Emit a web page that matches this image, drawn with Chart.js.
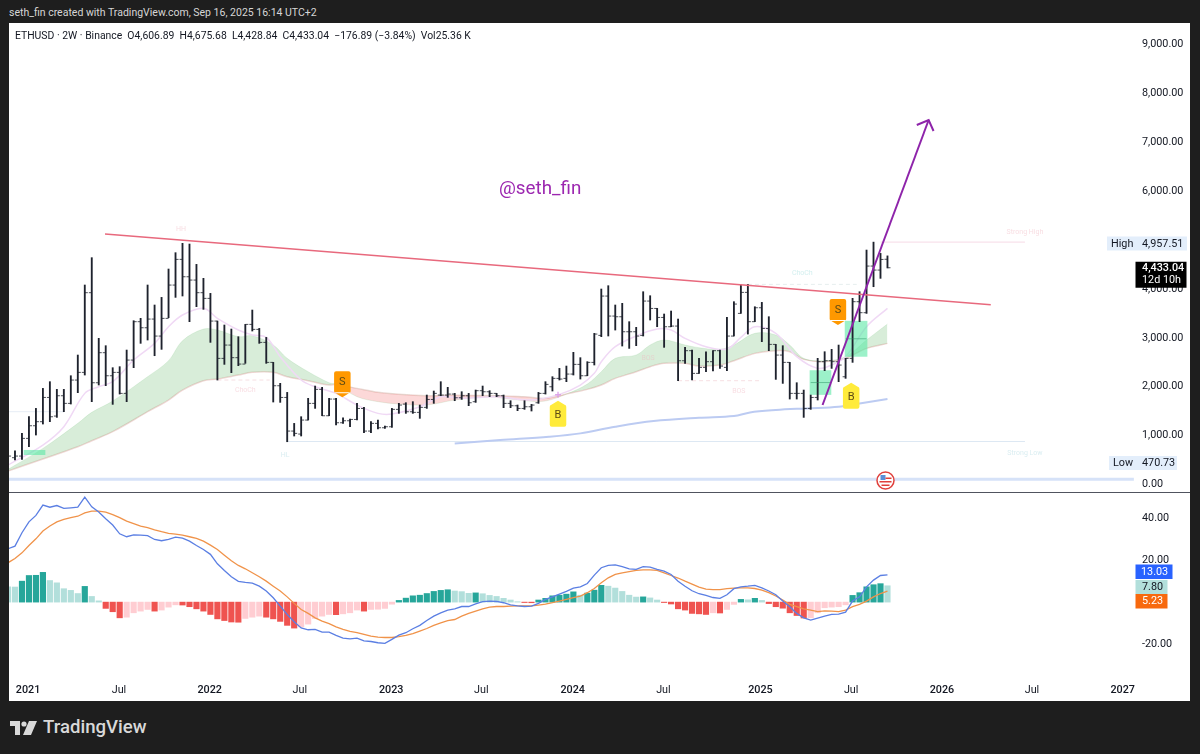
<!DOCTYPE html>
<html>
<head>
<meta charset="utf-8">
<title>ETHUSD 2W</title>
<script src="https://cdn.jsdelivr.net/npm/chart.js@4"></script>
<style>
  html, body { margin: 0; padding: 0; background: #1e1e1e; }
  body { width: 1200px; height: 754px; position: relative; overflow: hidden; font-family: Roboto, sans-serif; }
  #panel { position: absolute; left: 9px; top: 23px; width: 1181px; height: 678px; background: #fff; }
  #split { position: absolute; left: 9px; top: 492px; width: 1181px; height: 1px; background: #50535e; }
  canvas { position: absolute; left: 9px; }
  #priceChart { top: 23px; }
  #macdChart { top: 493px; }
  #byline { position: absolute; left: 9px; top: 6px; color: #d6d6d6; font-size: 10.5px; white-space: nowrap; }
  #legend { position: absolute; left: 15px; top: 29px; color: #131722; font-size: 10.4px; white-space: pre; }
  #handle { position: absolute; left: 499px; top: 177px; color: #9c27b0; font-size: 18.8px; }
  #brand { position: absolute; left: 43px; top: 716px; color: #d9d9d9; font-size: 18.6px; font-weight: 500; }
  #logo { position: absolute; left: 10px; top: 721px; }
</style>
</head>
<body>
<div id="panel"></div>
<canvas id="priceChart" width="1181" height="469"></canvas>
<div id="split"></div>
<canvas id="macdChart" width="1181" height="208"></canvas>
<div id="byline">seth_fin created with TradingView.com, Sep 16, 2025 16:14 UTC+2</div>
<div id="legend">ETHUSD · 2W · Binance  O4,606.89  H4,675.68  L4,428.84  C4,433.04  −176.89 (−3.84%)  Vol25.36 K</div>
<div id="handle">@seth_fin</div>
<svg id="logo" width="27" height="14" viewBox="0 0 27 14"><path d="M0 0h10v14H5V5H0z M19 0h8l-6 14h-8z" fill="#d9d9d9"/><circle cx="14" cy="3" r="2.6" fill="#d9d9d9"/></svg>
<div id="brand">TradingView</div>

<script>
// bar index runs left to right, one bar = 2 weeks
const opens = [534,549,583,944,1203,1285,1782,1400,1816,1660,2137,2294,3923,2082,2696,2225,2294,1864,2546,3330,3207,3384,3037,3398,4080,4605,4250,4182,3923,3807,3343,2580,2853,2594,2464,3275,3173,2907,2498,2021,1782,1094,1032,1319,1660,1946,1407,1748,1264,1305,1332,1557,1094,1251,1162,1182,1537,1646,1489,1476,1578,1741,1830,1830,1850,1775,1816,1694,1919,1898,1864,1816,1660,1612,1557,1591,1673,1864,2000,2171,2171,2260,2457,2225,2498,3050,3855,3446,3432,3125,3125,3050,3752,3602,3418,3227,3241,2532,2737,2273,2396,2512,2737,2396,3037,3500,3930,3330,3616,3193,2866,2648,2498,1864,1864,1557,1782,2512,2532,2512,2205,2580,3739,3514,4468,4386,4606.89];
const highs = [637,691,1046,1387,1557,1966,2103,1946,1946,2225,2648,4080,4639,2989,2839,2389,2410,2750,3350,3398,4080,3671,3827,4407,4741,4932,4918,4502,4216,3909,3343,3262,3180,3023,3275,3568,3193,3009,2498,2069,1884,1250,1387,1762,2014,1987,1762,1762,1366,1339,1660,1578,1285,1319,1196,1557,1660,1673,1694,1626,1830,1912,2103,1987,1864,1898,1864,1932,2014,1919,1864,1830,1714,1626,1714,1639,1884,2103,2205,2375,2423,2703,2594,2512,3091,3998,4066,3671,3705,3330,3214,3943,3861,3602,3487,3548,3384,2805,2750,2580,2716,2737,2750,3418,3739,4080,4093,3636,3725,3432,2866,2839,2498,2082,1932,1830,2580,2716,2764,2852,2580,3807,3943,4795,4957,4727,4675.68];
const lows = [501,501,514,773,1012,1237,1285,1373,1489,1646,1878,2239,1694,2035,2021,1639,1850,1694,2389,2887,2955,2634,2764,3412,3827,3855,3330,3637,3582,2907,2137,2457,2287,2430,2478,3139,2887,2478,1687,1680,875,992,992,1319,1557,1407,1407,1217,1251,1182,1319,1060,1060,1135,1148,1169,1455,1455,1455,1353,1557,1660,1816,1782,1714,1741,1612,1680,1816,1796,1796,1571,1571,1510,1537,1503,1660,1850,1912,2137,2103,2239,2157,2225,2444,3023,3037,3159,2832,2784,2839,3037,3364,3227,2805,3227,2123,2478,2137,2273,2307,2321,2375,2328,3037,3500,3077,3330,2921,2737,2150,2068,1748,1748,1373,1537,1728,2328,2375,2103,2171,2498,3330,3500,4045,4216,4428.84];
const closes = [583,583,944,1203,1285,1782,1387,1816,1660,2137,2294,3923,2082,2696,2225,2294,1864,2546,3330,3207,3384,3037,3398,4080,4605,4250,4182,3923,3807,3343,2580,2853,2594,2464,3275,3173,2907,2498,2021,1782,1094,1046,1319,1660,1946,1407,1748,1264,1305,1332,1557,1094,1251,1162,1182,1537,1626,1489,1476,1578,1741,1864,1830,1850,1775,1816,1673,1919,1898,1864,1816,1660,1612,1557,1591,1626,1864,2048,2171,2157,2260,2457,2225,2498,3078,3855,3446,3432,3125,3125,3037,3752,3602,3418,3227,3241,2532,2737,2273,2396,2512,2737,2423,3037,3691,3930,3330,3616,3193,2866,2648,2498,1864,1864,1557,1782,2512,2532,2512,2444,2580,3739,3514,4468,4386,4604,4433.04];

const ribbonX = [0,5,10,12,15,20,23,25,28,30,33,35,38,40,43,46,47,50,53,56,60,64,69,71,74,77,80,83,85,87,90,92,94,97,99,102,104,107,110,112,114,117,120,123,126];
const ribbonFast = [310,739,1251,1476,1707,2205,2532,2941,3180,3159,3023,3043,2853,2580,2307,2082,2048,1796,1694,1646,1626,1728,1796,1762,1714,1708,1850,2055,2307,2580,2648,2853,2955,2853,2798,2764,2853,3091,3057,2852,2580,2532,2614,2955,3282];
const ribbonSlow = [276,521,773,896,1080,1489,1728,1932,2123,2157,2239,2294,2294,2205,2123,2035,2048,1966,1885,1844,1816,1823,1816,1810,1796,1762,1850,1946,2035,2171,2307,2410,2478,2478,2423,2444,2532,2682,2737,2716,2559,2512,2580,2784,2886];

const emaX = [0,5,8,11,13,15,18,21,23,25,28,30,33,35,37,39,42,44,47,50,53,55,59,62,65,70,75,79,82,84,85,87,90,93,95,97,100,103,105,107,110,113,116,118,120,123,126];
const emaY = [398,807,1183,1864,2000,2103,2546,2887,3227,3466,3603,3398,3159,3057,3009,2614,2137,2000,1864,1626,1455,1441,1591,1796,1762,1796,1728,1844,2034,2273,2512,2818,3037,3180,3159,2989,2818,2771,3009,3228,3091,2614,2375,2444,2614,3227,3602];

const smaX = [64,70.5,77.5,82,87,92.5,99,104,106.3,110,114.4,119,122,126];
const smaY = [841,910,978,1046,1182,1298,1366,1400,1475,1523,1557,1591,1659,1748];

const trendX = [13.9,140.8];
const trendY = [5123,3677];
const arrowX = [116.7,131.9];
const arrowY = [1626,7454];
const arrowHeadX = [130.2,131.9,132.6];
const arrowHeadY = [7352,7454,7229];

const highLevel = 4957.51;
const lowLevel = 880;
const bandLevel = 106;

// S and B signals, the value is where the tag's tip sits
const sellBars = [47.9,118.9];
const sellValues = [1783,3262];
const buyBars = [78.8,120.8];
const buyValues = [1714,2082];

const noteTexts = ["HH","ChoCh","HL","BOS","BOS","ChoCh","Strong High","Strong Low"];
const noteBars = [24.8,34,39.7,91.7,104.7,113.8,145.7,145.7];
const noteValues = [5225,1933,603,2587,1912,4325,5164,644];

// 5,000 sits under the High tag in the original, so it is left out
const priceTicks = [0,1000,2000,3000,4000,6000,7000,8000,9000];
const macdTicks = [-20,20,40];
const timeTicks = [2.87,15.9,28.9,41.8,54.9,67.8,80.9,93.9,107.8,120.8,133.8,146.7,159.7];
const timeLabels = ["2021","Jul","2022","Jul","2023","Jul","2024","Jul","2025","Jul","2026","Jul","2027"];

const macdLine = [25.5,26.7,33.1,38.3,41.4,46.3,45.3,46.1,44.7,45,45.3,50.1,45.5,43,39.8,36.8,32.6,31.2,32.1,32,31.7,29.9,29.3,29.9,31,30.5,29.1,27,25.1,22.8,18.3,15.1,12.1,9.9,9.4,9.1,7.6,5.3,2.1,-1.9,-5.9,-9.4,-12.3,-13.2,-13,-14.3,-14.3,-15.9,-17.2,-17.5,-17.2,-18.5,-18.8,-19.4,-19.7,-17.8,-15.8,-14.6,-12.7,-11.1,-8.8,-6.7,-5.1,-3.8,-3.2,-2.1,-2.1,-0.8,0.2,0.5,0.3,-0.3,-1.3,-1.8,-2.1,-1.9,-0.6,1.3,2.5,3.8,5.1,6.7,7.3,8.9,12.9,16.4,17.5,17.8,16.9,15.9,15.6,16.9,16.7,15.6,14.8,13.2,10,7.6,5.4,4,3.2,2.2,1.8,3.5,6.4,7.3,7.6,8,6.8,5.3,3.5,0.5,-2.2,-5.4,-7.5,-8.6,-7.6,-6.7,-5.9,-5.7,-4.8,0.5,2.5,7.3,10.5,12.7,13.03];
const signalLine = [18.8,20.8,23.5,27,30.2,33.9,36.3,38.3,39.5,40.3,41,42.6,43.4,43.4,43,41.8,40.3,38.7,37.5,36.3,35.5,34.5,33.6,32.8,32.5,32,31.2,30.4,29.1,27.2,25.1,22.4,19.7,17.5,15.9,14,12.1,10,7.6,5.3,2.5,-0.6,-3.5,-5.4,-7.5,-9.1,-10.3,-11.8,-13,-14,-14.6,-15.4,-16.2,-16.7,-16.9,-16.9,-16.5,-15.9,-15,-13.8,-12.6,-11.1,-9.9,-8.8,-8.3,-6.7,-5.4,-4.3,-3.2,-2.4,-2.1,-2.1,-1.9,-1.8,-1.8,-1.8,-1.4,-1,-0.3,0.5,1.3,2.1,2.9,4.5,6.5,9.2,11.6,13.2,14,14.6,15.1,15.4,15.4,15.1,14,12.7,11.5,10,8.6,7.2,6.2,6,6,6.4,6.7,6.8,6.8,6.5,5.7,4.5,2.9,1,-1.1,-2.2,-3.2,-3.8,-4.5,-4.2,-4.3,-4.5,-3.8,-2.2,-1.1,0.5,2.5,4.1,5.23];
const histogram = [7.3,7.2,10,12.7,12.8,14.2,10.3,9.2,6.4,5.6,4.1,7.5,2.7,0.6,-3,-4.6,-7.5,-7.2,-5.1,-4.3,-3.5,-4.3,-3.8,-2.4,-1.3,-1.4,-2.2,-3.2,-4.3,-5.9,-8,-8.8,-9.5,-9.6,-7.8,-7.2,-6.7,-7.2,-8,-9.2,-11.1,-12.4,-11.8,-10.5,-7.8,-6.7,-5.9,-6,-5.6,-5.1,-3.8,-4.3,-3.5,-3.4,-3,-1,0.8,1.9,3,3.3,4.1,5.1,5.6,5.9,5.3,5,4.2,4.4,4,3.2,2.7,1.8,1,0.2,-0.2,-0.3,1,1.8,3,3.3,3.8,4.9,3.3,4.3,5.7,8,7.6,6.7,5.1,3.3,2.4,2.5,2,1,-0.2,-0.9,-3.2,-3.8,-5.4,-5.6,-5.9,-5.1,-5.2,-3.5,-1.1,1.3,1.1,1.8,0.8,-0.7,-2.2,-2.9,-5.1,-6.4,-7.6,-7.5,-5.1,-2.7,-2.4,-2.2,-1.3,3.2,4.5,7.3,8.3,8.8,7.8];

const ink = "#131722";
const fontName = "Roboto, sans-serif";

function points(xs, ys) {
  return xs.map((x, i) => ({ x: x, y: ys[i] }));
}

function seriesPoints(values) {
  return values.map((v, i) => ({ x: i, y: v }));
}

function flat(x1, x2, y) {
  return [{ x: x1, y: y }, { x: x2, y: y }];
}

// little side ticks of an OHLC bar, used as point images
function sideTick(left) {
  const c = document.createElement("canvas");
  c.width = 8;
  c.height = 3;
  const g = c.getContext("2d");
  g.fillStyle = "rgba(19,23,34,0.75)";
  g.fillRect(left ? 1 : 4, 1, 3, 1);
  return c;
}

function lineSet(data, color, width, extra) {
  return Object.assign({
    type: "line",
    data: data,
    borderColor: color,
    borderWidth: width,
    pointRadius: 0,
    fill: false,
    order: 1
  }, extra || {});
}

function boxSet(center, width, lo, hi) {
  return {
    type: "bar",
    data: [{ x: center, y: [lo, hi] }],
    backgroundColor: "rgba(90,232,165,0.6)",
    barThickness: width,
    grouped: false,
    order: 3
  };
}

function drawTag(ctx, cx, tipY, down, color, letter) {
  const w = 16.5, h = 26, n = 4;
  const top = down ? tipY - h : tipY;
  const bottom = down ? tipY : tipY + h;
  ctx.fillStyle = color;
  ctx.beginPath();
  if (down) {
    ctx.roundRect(cx - w / 2, top, w, h - n, 2);
    ctx.moveTo(cx - w / 2, bottom - n - 1);
    ctx.lineTo(cx, bottom);
    ctx.lineTo(cx + w / 2, bottom - n - 1);
  } else {
    ctx.roundRect(cx - w / 2, top + n, w, h - n, 2);
    ctx.moveTo(cx - w / 2, top + n + 1);
    ctx.lineTo(cx, top);
    ctx.lineTo(cx + w / 2, top + n + 1);
  }
  ctx.fill();
  ctx.fillStyle = "#5d4a14";
  ctx.font = "11px " + fontName;
  ctx.textAlign = "center";
  ctx.textBaseline = "middle";
  ctx.fillText(letter, cx, down ? top + 11 : top + 15);
}

function drawAxisTag(ctx, x, y, w, h, bg, fg, text, textX, weight) {
  ctx.fillStyle = bg;
  ctx.fillRect(x, y, w, h);
  ctx.fillStyle = fg;
  ctx.font = (weight || "400") + " 10.8px " + fontName;
  ctx.textAlign = "left";
  ctx.textBaseline = "middle";
  ctx.fillText(text, textX, y + h / 2 + 0.5);
}

const priceOverlay = {
  id: "priceOverlay",
  afterDraw(chart) {
    const ctx = chart.ctx;
    const xs = chart.scales.x, ys = chart.scales.y;
    ctx.save();

    // faint structure labels
    ctx.font = "7px " + fontName;
    ctx.textAlign = "center";
    ctx.textBaseline = "middle";
    noteTexts.forEach((t, i) => {
      ctx.fillStyle = (t == "HL" || t == "Strong Low") ? "rgba(170,215,225,0.45)" : (t == "ChoCh" && i > 1) ? "rgba(170,225,225,0.5)" : "rgba(240,180,190,0.45)";
      ctx.fillText(t, xs.getPixelForValue(noteBars[i]), ys.getPixelForValue(noteValues[i]));
    });

    sellBars.forEach((b, i) => drawTag(ctx, xs.getPixelForValue(b), ys.getPixelForValue(sellValues[i]), true, "#ff9800", "S"));
    buyBars.forEach((b, i) => drawTag(ctx, xs.getPixelForValue(b), ys.getPixelForValue(buyValues[i]), false, "#ffeb3b", "B"));

    // small plus above the first buy tag
    ctx.strokeStyle = "rgba(215,150,230,0.8)";
    ctx.lineWidth = 1.5;
    const px = xs.getPixelForValue(buyBars[0]), py = ys.getPixelForValue(buyValues[0]) - 6;
    ctx.beginPath();
    ctx.moveTo(px - 3, py); ctx.lineTo(px + 3, py);
    ctx.moveTo(px, py - 3); ctx.lineTo(px, py + 3);
    ctx.stroke();

    // economic event badge
    const ex = 876.5, ey = 457.5;
    ctx.beginPath(); ctx.arc(ex, ey, 8.5, 0, Math.PI * 2);
    ctx.fillStyle = "#fff"; ctx.fill();
    ctx.strokeStyle = "#e0403c"; ctx.lineWidth = 1.5; ctx.stroke();
    ctx.fillStyle = "#5b8fd8"; ctx.fillRect(ex - 5, ey - 5.5, 5, 5);
    ctx.fillStyle = "#e0403c"; ctx.fillRect(ex, ey - 3, 6, 1.5); ctx.fillRect(ex - 6, ey + 0.5, 12, 1.5); ctx.fillRect(ex - 4, ey + 4, 8, 1.5);

    // right side price tags
    const hy = ys.getPixelForValue(highLevel) + 1.4;
    drawAxisTag(ctx, 1098, hy - 7, 80, 14, "#e3eefb", ink, "High", 1102);
    ctx.fillText("4,957.51", 1133, hy + 0.5);
    const ly = ys.getPixelForValue(470.73) + 1.5;
    drawAxisTag(ctx, 1100, ly - 7, 68, 14, "#e3eefb", ink, "Low", 1104);
    ctx.fillText("470.73", 1133, ly + 0.5);
    const cy = ys.getPixelForValue(closes[closes.length - 1]);
    ctx.fillStyle = "#000";
    ctx.fillRect(1126.5, cy - 6, 51, 26);
    ctx.fillStyle = "#fff";
    ctx.font = "500 10.8px " + fontName;
    ctx.textAlign = "left";
    ctx.fillText("4,433.04", 1133, cy + 0.5);
    ctx.font = "10.8px " + fontName;
    ctx.fillText("12d 10h", 1133, cy + 12.5);
    ctx.restore();
  }
};

const macdOverlay = {
  id: "macdOverlay",
  afterDraw(chart) {
    const ctx = chart.ctx;
    ctx.save();
    drawAxisTag(ctx, 1126.5, 71.5, 37, 14.5, "#2962ff", "#fff", "13.03", 1132);
    drawAxisTag(ctx, 1126.5, 87, 32, 14, "#b2dfdb", ink, "7.80", 1133);
    drawAxisTag(ctx, 1126.5, 101, 32, 14.5, "#f7690e", "#fff", "5.23", 1133);
    ctx.restore();
  }
};

// the tick padding would otherwise also shrink the plot vertically
function yAxis(min, max, ticks) {
  return {
    position: "right",
    min: min,
    max: max,
    grid: { display: false, drawTicks: false },
    border: { display: false },
    afterFit: s => {
      s.width = 65;
      s.paddingTop = 0;
      s.paddingBottom = 0;
    },
    afterBuildTicks: s => { s.ticks = ticks.map(v => ({ value: v })); },
    ticks: {
      padding: 17,
      color: ink,
      autoSkip: false,
      font: { family: fontName, size: 10.8 },
      callback: v => v.toLocaleString("en-US", { minimumFractionDigits: 2, maximumFractionDigits: 2 })
    }
  };
}

const barIndex = opens.map((v, i) => i);

new Chart(document.getElementById("priceChart"), {
  type: "bar",
  plugins: [priceOverlay],
  data: {
    datasets: [
      lineSet(points(ribbonX, ribbonFast), "rgba(76,175,80,0.12)", 1, {
        fill: { target: "+1", above: "rgba(76,175,80,0.22)", below: "rgba(244,90,90,0.24)" },
        tension: 0.35,
        order: 6
      }),
      lineSet(points(ribbonX, ribbonSlow), "rgba(205,150,140,0.35)", 1.5, { tension: 0.35, order: 6 }),
      lineSet(points(emaX, emaY), "#f0d9f5", 1.5, { tension: 0.35, order: 5 }),
      lineSet(points(smaX, smaY), "#bccbf2", 2, { tension: 0.35, order: 5 }),
      lineSet(flat(0, 161.3, bandLevel), "#d6e2f8", 3, { clip: false, order: 5 }),
      lineSet(flat(125, 145.7, highLevel), "#f6dbe6", 1, { order: 5 }),
      lineSet(flat(40, 145.7, lowLevel), "#dde8f3", 1, { order: 5 }),
      lineSet(flat(0, 8, 1489), "#e6edf5", 1, { order: 5 }),
      lineSet(flat(30, 37.5, 2137), "#f6dfe3", 1, { borderDash: [4, 3], order: 5 }),
      lineSet(flat(96, 107.7, 2123), "#f6dfe3", 1, { borderDash: [4, 3], order: 5 }),
      lineSet(flat(105, 121.6, 4093), "#e6eeee", 1, { borderDash: [4, 3], order: 5 }),
      boxSet(3.8, 21, 610, 700),
      boxSet(116.4, 21, 1840, 2330),
      boxSet(121.5, 22, 2620, 3340),
      lineSet(flat(115, 118, 2085), "rgba(40,150,100,0.5)", 1, { order: 2 }),
      lineSet(flat(120, 123, 2980), "rgba(40,150,100,0.5)", 1, { order: 2 }),
      {
        type: "bar",
        data: barIndex.map(i => ({ x: i, y: [lows[i], highs[i]] })),
        backgroundColor: "#1e222d",
        barThickness: 1.2,
        grouped: false,
        order: 2
      },
      // radius has to stay above zero or the image is skipped
      lineSet(seriesPoints(opens), ink, 0, { showLine: false, pointRadius: 4, pointBorderWidth: 0, pointStyle: sideTick(true), order: 2 }),
      lineSet(seriesPoints(closes), ink, 0, { showLine: false, pointRadius: 4, pointBorderWidth: 0, pointStyle: sideTick(false), order: 2 }),
      lineSet(points(trendX, trendY), "#e8697d", 1.6, { order: 1 }),
      lineSet(points(arrowX, arrowY), "#8e24aa", 2, { order: 0 }),
      lineSet(points(arrowHeadX, arrowHeadY), "#8e24aa", 2, { order: 0 })
    ]
  },
  options: {
    responsive: false,
    animation: false,
    layout: { padding: 0, autoPadding: false },
    plugins: { legend: { display: false }, tooltip: { enabled: false } },
    scales: {
      x: { type: "linear", display: false, min: 0.143, max: 160.03, offset: false },
      y: yAxis(-153, 9438, priceTicks)
    }
  }
});

new Chart(document.getElementById("macdChart"), {
  type: "bar",
  plugins: [macdOverlay],
  data: {
    datasets: [
      {
        type: "bar",
        data: seriesPoints(histogram),
        barThickness: 5.5,
        grouped: false,
        order: 3,
        backgroundColor: ctx => {
          const i = ctx.dataIndex;
          const v = histogram[i];
          const prev = i > 0 ? histogram[i - 1] : v;
          if (v >= 0) return v > prev ? "#26a69a" : "#b2dfdb";
          return v < prev ? "#ef5350" : "#ffcdd2";
        }
      },
      lineSet(seriesPoints(macdLine), "#5b7fe3", 1.3, { order: 1 }),
      lineSet(seriesPoints(signalLine), "#f0934a", 1.3, { order: 1 })
    ]
  },
  options: {
    responsive: false,
    animation: false,
    layout: { padding: 0, autoPadding: false },
    plugins: { legend: { display: false }, tooltip: { enabled: false } },
    scales: {
      x: {
        type: "linear",
        min: 0.143,
        max: 160.03,
        offset: false,
        grid: { display: false, drawTicks: false },
        border: { display: false },
        afterFit: s => {
          s.height = 22;
          s.paddingLeft = 0;
          s.paddingRight = 0;
        },
        afterBuildTicks: s => { s.ticks = timeTicks.map(v => ({ value: v })); },
        ticks: {
          padding: 5,
          color: ink,
          autoSkip: false,
          maxRotation: 0,
          font: c => ({ family: fontName, size: 10.8, weight: c.index % 2 == 0 ? "500" : "400" }),
          callback: (v, i) => timeLabels[i]
        }
      },
      y: yAxis(-36.7, 52.08, macdTicks)
    }
  }
});
</script>
</body>
</html>
